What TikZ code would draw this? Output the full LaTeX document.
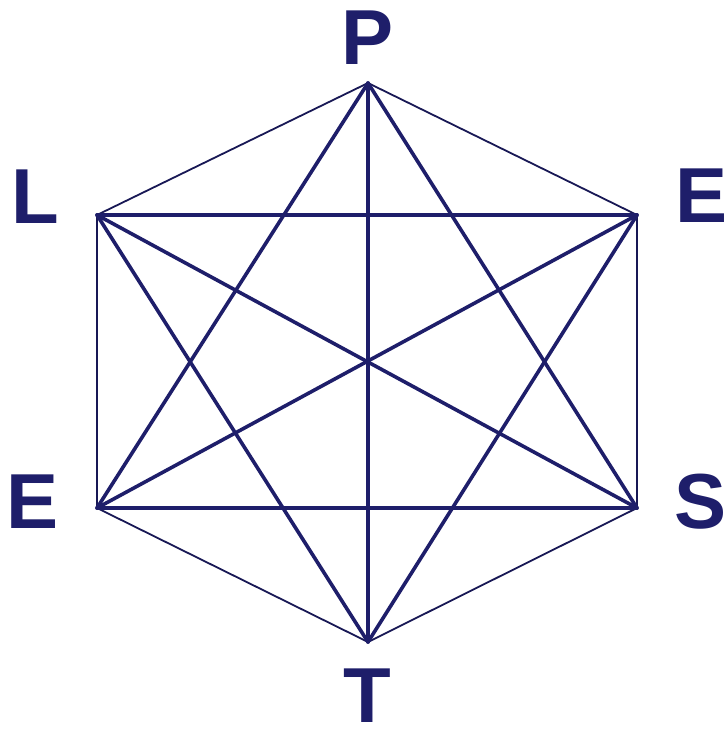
\documentclass[tikz,border=0pt]{standalone}
\usepackage{fontspec}
\setmainfont{Liberation Sans}
\definecolor{navy}{HTML}{1E1E6A}
\begin{document}
\begin{tikzpicture}[x=1pt,y=-1pt,
  lbl/.style={inner sep=0pt,text=navy,font=\fontsize{78}{78}\selectfont\bfseries},
  thin/.style={draw=navy!80!black,line width=1.8pt,line cap=round},
  thick/.style={draw=navy,line width=3.6pt,line cap=round}]
\useasboundingbox (0,0) rectangle (727,733);
\coordinate (P) at (368,83);
\coordinate (L) at (97,215);
\coordinate (E1) at (637,215);
\coordinate (E2) at (97,508);
\coordinate (S) at (637,508);
\coordinate (T) at (368,642);
\node[lbl] (lP) at (368,38) {P};
\node[lbl] (lL) at (35,197) {L};
\node[lbl] (lE1) at (702,196) {E};
\node[lbl] (lE2) at (33,502) {E};
\node[lbl] (lS) at (701,502) {S};
\node[lbl] (lT) at (367,696) {T};
% hexagon
\draw[thin] (P) -- (L) -- (E2) -- (T) -- (S) -- (E1) -- cycle;
% diagonals
\draw[thick] (L) -- (E1);
\draw[thick] (E2) -- (S);
\draw[thick] (P) -- (T);
\draw[thick] (P) -- (E2);
\draw[thick] (P) -- (S);
\draw[thick] (L) -- (S);
\draw[thick] (L) -- (T);
\draw[thick] (E1) -- (E2);
\draw[thick] (E1) -- (T);
\end{tikzpicture}
\end{document}
